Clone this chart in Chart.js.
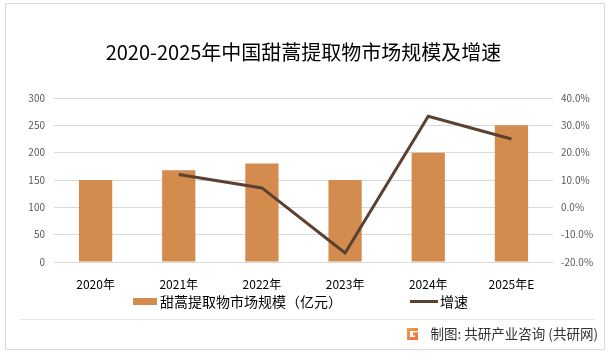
<!DOCTYPE html>
<html>
<head>
<meta charset="utf-8">
<script src="https://cdn.jsdelivr.net/npm/chart.js@4.4.1/dist/chart.umd.min.js"></script>
<style>
html,body{margin:0;padding:0;background:#fff;}
canvas{display:block;}
</style>
</head>
<body>
<canvas id="c" width="613" height="356"></canvas>
<script>
const categories = ['2020年','2021年','2022年','2023年','2024年','2025年E'];
const marketSize = [150, 168, 180, 150, 200, 250];
const growthRate = [null, 12.0, 7.1, -16.7, 33.3, 25.0];
const leftTicks = [0, 50, 100, 150, 200, 250, 300];
const rightTicks = [-20, -10, 0, 10, 20, 30, 40];
const titleText = '2020-2025年中国甜蒿提取物市场规模及增速';
const seriesNames = ['甜蒿提取物市场规模（亿元）', '增速'];
const sourceText = '制图: 共研产业咨询 (共研网)';

const BAR_COLOR = '#D38C4E';
const LINE_COLOR = '#5C4130';
const FONT = '"Noto Sans CJK SC", "Microsoft YaHei", sans-serif';

const framePlugin = {
  id: 'frame',
  beforeDraw(chart) {
    const ctx = chart.ctx;
    ctx.save();
    ctx.fillStyle = '#fff';
    ctx.fillRect(0, 0, chart.width, chart.height);
    ctx.strokeStyle = '#d9d9d9';
    ctx.lineWidth = 1;
    ctx.strokeRect(5.5, 3.5, 599, 346);
    ctx.restore();
  },
  afterDraw(chart) {
    const ctx = chart.ctx;
    const ds = chart.data.datasets;
    const barDs = ds.find(d => d.type === 'bar');
    const lineDs = ds.find(d => d.type === 'line');
    ctx.save();
    // legend
    ctx.font = '14px ' + FONT;
    ctx.textBaseline = 'middle';
    const ly = 301.5;
    ctx.fillStyle = barDs.backgroundColor;
    ctx.fillRect(133, 298, 24, 7);
    ctx.fillStyle = '#000';
    ctx.textAlign = 'left';
    ctx.fillText(barDs.label, 160, ly);
    ctx.strokeStyle = lineDs.borderColor;
    ctx.lineWidth = 3;
    ctx.beginPath();
    ctx.moveTo(410, ly);
    ctx.lineTo(438, ly);
    ctx.stroke();
    ctx.fillText(lineDs.label, 440, ly);
    // separator
    ctx.strokeStyle = '#e6e6e6';
    ctx.lineWidth = 1;
    ctx.beginPath();
    ctx.moveTo(20, 319.5);
    ctx.lineTo(595, 319.5);
    ctx.stroke();
    // icon
    const g = ctx.createLinearGradient(407, 328, 418, 340);
    g.addColorStop(0, '#F7A14A');
    g.addColorStop(1, '#EE6A3A');
    ctx.fillStyle = g;
    ctx.fillRect(407, 328, 11, 3);
    ctx.fillRect(407, 328, 3, 12);
    ctx.fillRect(407, 337, 11, 3);
    ctx.fillRect(413, 332.5, 5, 3);
    ctx.fillRect(415, 332.5, 3, 7);
    // source text
    ctx.font = '13.5px ' + FONT;
    ctx.fillStyle = '#333';
    ctx.textAlign = 'right';
    ctx.fillText(sourceText, 598, 334);
    ctx.restore();
  }
};

new Chart(document.getElementById('c'), {
  data: {
    labels: categories,
    datasets: [
      {
        type: 'line',
        label: seriesNames[1],
        data: growthRate,
        yAxisID: 'y1',
        borderColor: LINE_COLOR,
        backgroundColor: LINE_COLOR,
        borderWidth: 3,
        pointRadius: 0,
        pointHoverRadius: 0,
        tension: 0,
        order: 0
      },
      {
        type: 'bar',
        label: seriesNames[0],
        data: marketSize,
        yAxisID: 'y',
        backgroundColor: BAR_COLOR,
        categoryPercentage: 1.0,
        barPercentage: 0.4,
        order: 1
      }
    ]
  },
  options: {
    responsive: false,
    animation: false,
    devicePixelRatio: 1,
    layout: { padding: { top: 0, left: 0, right: 0, bottom: 60 } },
    plugins: {
      legend: { display: false },
      tooltip: { enabled: false },
      title: {
        display: true,
        text: titleText,
        fullSize: false,
        color: '#000',
        font: { family: FONT, size: 20, weight: 'normal', lineHeight: 1.2 },
        padding: { top: 40, bottom: 34 }
      }
    },
    scales: {
      x: {
        grid: { display: false, drawTicks: false },
        border: { display: false },
        ticks: { color: '#000', font: { family: FONT, size: 12 }, padding: 15, maxRotation: 0, autoSkip: false },
        afterFit(s) { s.height = 34; }
      },
      y: {
        position: 'left',
        min: 0, max: 300,
        afterBuildTicks(s) { s.ticks = leftTicks.map(v => ({ value: v })); },
        grid: { color: '#d9d9d9', drawTicks: false },
        border: { display: false },
        ticks: { color: '#595959', font: { family: FONT, size: 10 }, padding: 9 },
        afterFit(s) { s.width = 54; }
      },
      y1: {
        position: 'right',
        min: -20, max: 40,
        afterBuildTicks(s) { s.ticks = rightTicks.map(v => ({ value: v })); },
        grid: { display: false, drawTicks: false },
        border: { display: false },
        ticks: { color: '#595959', font: { family: FONT, size: 10 }, padding: 8, callback: v => v.toFixed(1) + '%' },
        afterFit(s) { s.width = 60; }
      }
    }
  },
  plugins: [framePlugin]
});
</script>
</body>
</html>
